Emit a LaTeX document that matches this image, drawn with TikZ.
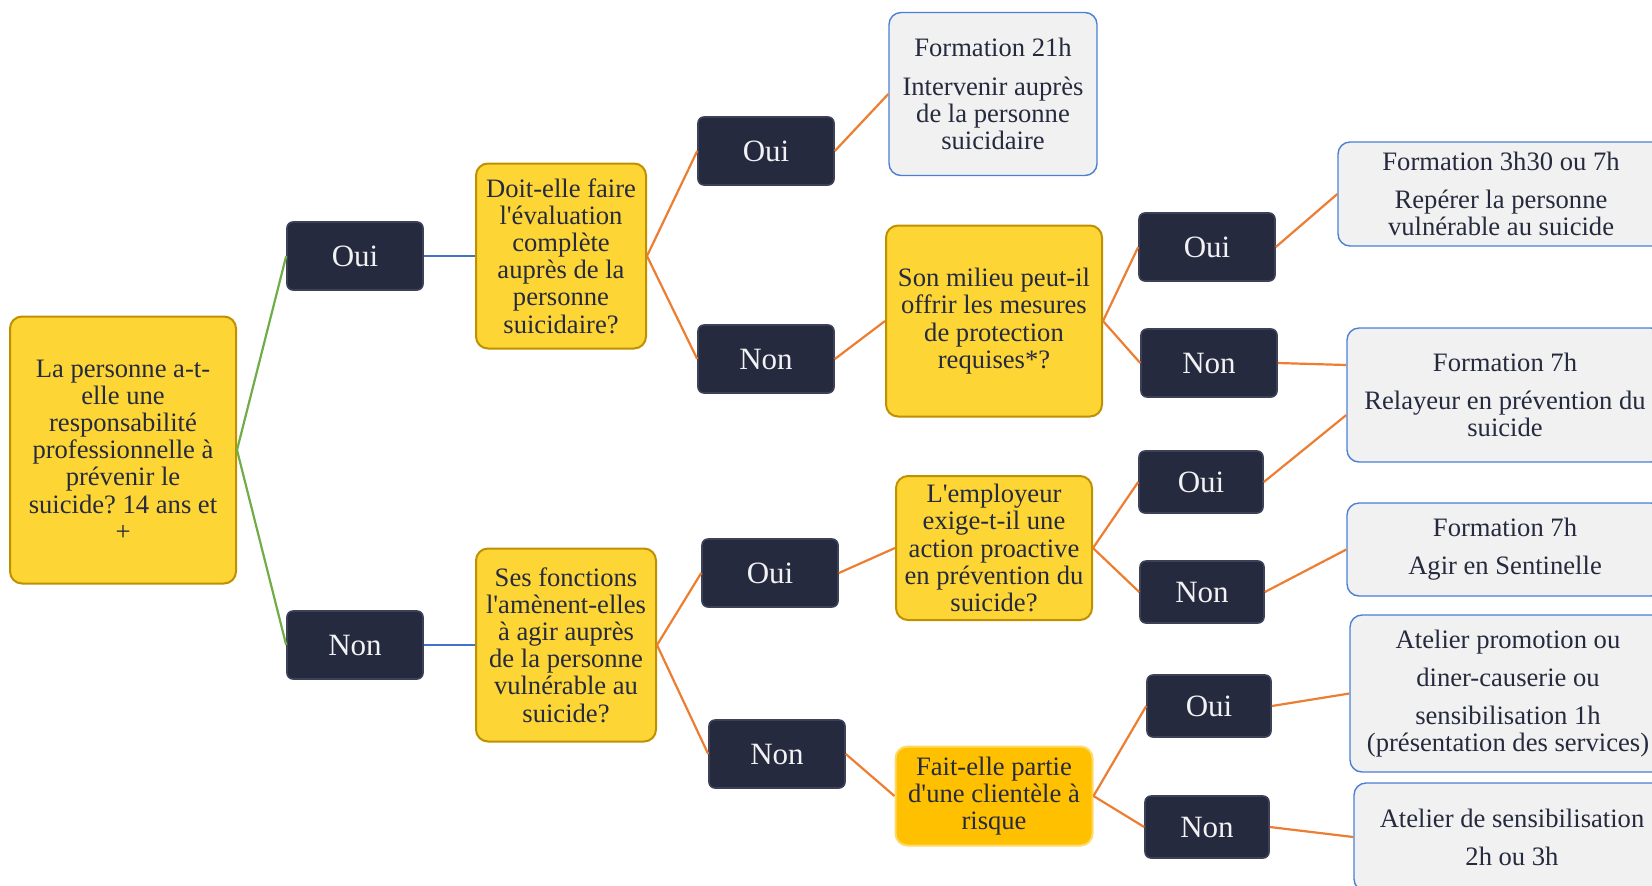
\documentclass[tikz,border=0pt]{standalone}
\usepackage{fontspec}
\setmainfont{Liberation Serif}[Ligatures=TeXOff]
\usepackage{tikz}
\frenchspacing
\definecolor{ink}{HTML}{262A3E}
\definecolor{qfill}{HTML}{FDD535}
\definecolor{qline}{HTML}{BF9000}
\definecolor{rfill}{HTML}{FFC000}
\definecolor{rline}{HTML}{FFD966}
\definecolor{afill}{HTML}{262A3E}
\definecolor{aline}{HTML}{3C4158}
\definecolor{tfill}{HTML}{F0F1F0}
\definecolor{tline}{HTML}{4A7FD4}
\definecolor{lgreen}{HTML}{70AD47}
\definecolor{lblue}{HTML}{4472C4}
\definecolor{lorange}{HTML}{ED7D31}
\newcommand\bodyfont{\fontsize{13.3pt}{13.6pt}\selectfont}
\newcommand\answerfont{\fontsize{15.5pt}{16pt}\selectfont}
\tikzset{
  question/.style  = {shape=rectangle, rounded corners=6pt, draw=qline,
                      fill=qfill, line width=1pt, align=center,
                      text=ink, font=\bodyfont, inner sep=0pt},
  risk/.style      = {question, draw=rline, fill=rfill},
  answer/.style    = {shape=rectangle, rounded corners=3pt, draw=aline,
                      fill=afill, line width=0.8pt, text=white!94!ink,
                      font=\answerfont, minimum width=68pt,
                      minimum height=34pt},
  small/.style     = {answer, minimum width=62pt, minimum height=31pt},
  training/.style  = {shape=rectangle, rounded corners=6pt, draw=tline,
                      fill=tfill, line width=0.7pt, align=center,
                      text=ink, font=\bodyfont, inner sep=0pt,
                      minimum width=158pt},
  greenlink/.style = {draw=lgreen, line width=1.1pt},
  bluelink/.style  = {draw=lblue, line width=1.1pt},
  orangelink/.style= {draw=lorange, line width=1.1pt}
}
\begin{document}
\begin{tikzpicture}[x=0.5pt,y=-0.5pt]
  \useasboundingbox (0,0) rectangle (1652,885);
  \clip (0,0) rectangle (1652,885);

  \node[question, minimum width=113pt, minimum height=133.5pt] (resp) at (123,450)
    {La personne a-t-\\elle une\\responsabilité\\professionnelle à\\prévenir le\\suicide? 14 ans et\\+};

  \node[answer] (oui) at (355,256) {Oui};
  \node[answer] (non) at (355,645) {Non};

  \node[question, minimum width=85pt, minimum height=92.5pt] (eval) at (561,256)
    {Doit-elle faire\\l'évaluation\\complète\\auprès de la\\personne\\suicidaire?};
  \node[question, minimum width=90pt, minimum height=96.5pt] (fonct) at (566,645)
    {Ses fonctions\\l'amènent-elles\\à agir auprès\\de la personne\\vulnérable au\\suicide?};

  \node[answer] (evaloui) at (766,151) {Oui};
  \node[answer] (evalnon) at (766,359) {Non};
  \node[answer] (fonctoui) at (770,573) {Oui};
  \node[answer] (fonctnon) at (777,754) {Non};

  \node[training, minimum width=104pt, minimum height=81.5pt] (f21) at (993,94)
    {Formation 21h\\[5.5pt]Intervenir auprès\\de la personne\\suicidaire};
  \node[question, minimum width=108pt, minimum height=95.5pt] (milieu) at (994,321)
    {Son milieu peut-il\\offrir les mesures\\de protection\\requises*?};
  \node[question, minimum width=98pt, minimum height=72pt] (employeur) at (994,548)
    {L'employeur\\exige-t-il une\\action proactive\\en prévention du\\suicide?};
  \node[risk, minimum width=98.5pt, minimum height=49.5pt] (clientele) at (994,796)
    {Fait-elle partie\\d'une clientèle à\\risque};

  \node[answer] (milieuoui) at (1207,247) {Oui};
  \node[answer] (milieunon) at (1209,363) {Non};
  \node[small] (employeuroui) at (1201,482) {Oui};
  \node[small] (employeurnon) at (1202,592) {Non};
  \node[small] (clienteleoui) at (1209,706) {Oui};
  \node[small] (clientelenon) at (1207,827) {Non};

  \node[training, minimum width=163pt, minimum height=52pt] (f3h30) at (1501,194)
    {Formation 3h30 ou 7h\\[5.5pt]Repérer la personne\\vulnérable au suicide};
  \node[training, minimum height=67pt] (relayeur) at (1505,395)
    {Formation 7h\\[5.5pt]Relayeur en prévention du\\suicide};
  \node[training, minimum height=46.5pt] (sentinelle) at (1505,549.5)
    {Formation 7h\\[5.5pt]Agir en Sentinelle};
  \node[training, minimum height=78.5pt] (promotion) at (1508,693.5)
    {Atelier promotion ou\\[5.5pt]diner-causerie ou\\[5.5pt]sensibilisation 1h\\(présentation des services)};
  \node[training, minimum height=54pt] (atelier) at (1512,837)
    {Atelier de sensibilisation\\[5.5pt]2h ou 3h};

  \draw[greenlink] (resp.east) -- (oui.west);
  \draw[greenlink] (resp.east) -- (non.west);
  \draw[bluelink] (oui.east) -- (eval.west);
  \draw[bluelink] (non.east) -- (fonct.west);
  \draw[orangelink] (eval.east) -- (evaloui.west);
  \draw[orangelink] (eval.east) -- (evalnon.west);
  \draw[orangelink] (fonct.east) -- (fonctoui.west);
  \draw[orangelink] (fonct.east) -- (fonctnon.west);
  \draw[orangelink] (evaloui.east) -- (f21.west);
  \draw[orangelink] (evalnon.east) -- (milieu.west);
  \draw[orangelink] (fonctoui.east) -- (employeur.west);
  \draw[orangelink] (fonctnon.east) -- (clientele.west);
  \draw[orangelink] (milieu.east) -- (milieuoui.west);
  \draw[orangelink] (milieu.east) -- (milieunon.west);
  \draw[orangelink] (employeur.east) -- (employeuroui.west);
  \draw[orangelink] (employeur.east) -- (employeurnon.west);
  \draw[orangelink] (clientele.east) -- (clienteleoui.west);
  \draw[orangelink] (clientele.east) -- (clientelenon.west);
  \draw[orangelink] (milieuoui.east) -- (f3h30.west);
  \draw[orangelink] (milieunon.east) -- ([yshift=15pt]relayeur.west);
  \draw[orangelink] (employeuroui.east) -- ([yshift=-10pt]relayeur.west);
  \draw[orangelink] (employeurnon.east) -- (sentinelle.west);
  \draw[orangelink] (clienteleoui.east) -- (promotion.west);
  \draw[orangelink] (clientelenon.east) -- (atelier.west);
\end{tikzpicture}
\end{document}
